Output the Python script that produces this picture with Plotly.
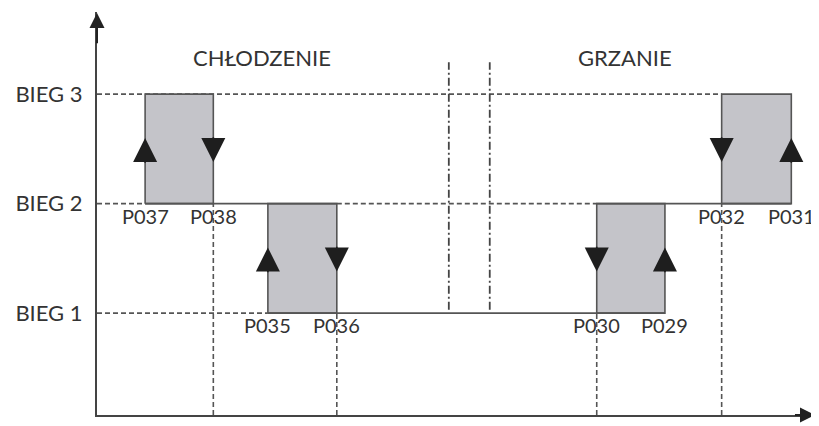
import plotly.graph_objects as go

# gear levels
level_names = ["BIEG 1", "BIEG 2", "BIEG 3"]
level_values = [1, 2, 3]

# hysteresis boxes: parameter on the left edge, parameter on the right edge
box_left_names = ["P037", "P035", "P030", "P032"]
box_right_names = ["P038", "P036", "P029", "P031"]
box_left_x = [6.7, 23.8, 69.6, 87.0]
box_right_x = [16.2, 33.4, 79.1, 96.7]
box_low = [2, 1, 1, 2]
box_high = [3, 2, 2, 3]
left_dir = ["up", "up", "down", "down"]
right_dir = ["down", "down", "up", "up"]

section_names = ["CHŁODZENIE", "GRZANIE"]
section_x = [23.0, 73.5]
break_x = [49.0, 54.7]

X_RANGE = [0, 100]
Y_RANGE = [0.07, 3.75]
INK = "#333333"
EDGE = "#555555"
FILL = "#c4c4c9"
FONT = "Lato, Open Sans, sans-serif"

fig = go.Figure()


def add_line(xs, ys, dash="solid", width=1.6, color=EDGE):
    fig.add_trace(go.Scatter(x=xs, y=ys, mode="lines", hoverinfo="skip",
                             line=dict(color=color, width=width, dash=dash)))


dash = "5px,3px"
y0 = Y_RANGE[0]
# horizontal guide lines from the axis
add_line([0, box_left_x[3]], [3, 3], dash)
add_line([0, box_left_x[0]], [2, 2], dash)
add_line([box_right_x[1], box_left_x[2]], [2, 2], dash)
add_line([0, box_left_x[1]], [1, 1], dash)
# vertical guide lines down to the x axis
add_line([box_right_x[0]] * 2, [y0, 2], dash)
add_line([box_right_x[1]] * 2, [y0, 1], dash)
add_line([box_left_x[2]] * 2, [y0, 1], dash)
add_line([box_left_x[3]] * 2, [y0, 2], dash)
# axis break
for bx in break_x:
    add_line([bx, bx], [1.03, 3.29], "8px,3px,2px,3px", 1.8, "#444444")

# grey hysteresis boxes
for xl, xr, lo, hi in zip(box_left_x, box_right_x, box_low, box_high):
    fig.add_trace(go.Scatter(x=[xl, xr, xr, xl, xl], y=[lo, lo, hi, hi, lo],
                             mode="lines", fill="toself", fillcolor=FILL,
                             hoverinfo="skip", line=dict(color=EDGE, width=1.6)))

# solid switching paths
add_line([box_left_x[0], box_right_x[1]], [2, 2])
add_line([box_left_x[2], box_right_x[3]], [2, 2])
add_line([box_left_x[1], box_right_x[2]], [1, 1])


def arrow(x, lo, direction):
    tip = lo + (0.6 if direction == "up" else 0.38)
    tail = tip - 0.24 if direction == "up" else tip + 0.24
    fig.add_annotation(x=x, y=tip, ax=x, ay=tail, xref="x", yref="y", axref="x", ayref="y",
                       text="", showarrow=True, arrowhead=2, arrowsize=3.0,
                       arrowwidth=1.6, arrowcolor="#1e1e1e")


label_font = dict(family=FONT, size=20, color=INK)
for i in range(len(box_left_x)):
    arrow(box_left_x[i], box_low[i], left_dir[i])
    arrow(box_right_x[i], box_low[i], right_dir[i])
    for name, x in [(box_left_names[i], box_left_x[i]), (box_right_names[i], box_right_x[i])]:
        fig.add_annotation(x=x, y=box_low[i], text=name, showarrow=False, xanchor="center",
                           yanchor="top", yshift=2, font=label_font)

for name, x in zip(section_names, section_x):
    fig.add_annotation(x=x, y=3.33, text=name, showarrow=False,
                       font=dict(family=FONT, size=22, color=INK))

# axis arrow heads
fig.add_annotation(x=0, y=Y_RANGE[1] - 0.01, ax=0, ay=3.45, xref="x", yref="y", axref="x", ayref="y",
                   text="", showarrow=True, arrowhead=2, arrowsize=1.5, arrowwidth=2, arrowcolor="#222")
fig.add_annotation(x=X_RANGE[1], y=y0, ax=97, ay=y0, xref="x", yref="y", axref="x", ayref="y",
                   text="", showarrow=True, arrowhead=2, arrowsize=1.5, arrowwidth=2, arrowcolor="#222")

# the page body adds an 8px offset, so the figure is sized to fit the 819x426 window
fig.update_layout(
    width=811, height=418, showlegend=False,
    margin=dict(l=89, r=4, t=4, b=11),
    paper_bgcolor="white", plot_bgcolor="white",
    xaxis=dict(range=X_RANGE, showgrid=False, zeroline=False, showticklabels=False,
               showline=True, linecolor="#444", linewidth=2, ticks=""),
    yaxis=dict(range=Y_RANGE, showgrid=False, zeroline=False, tickvals=level_values,
               ticktext=level_names, ticks="", ticklabelstandoff=8,
               tickfont=dict(family=FONT, size=22, color=INK),
               showline=True, linecolor="#444", linewidth=2),
)

fig.write_html("out.html")
